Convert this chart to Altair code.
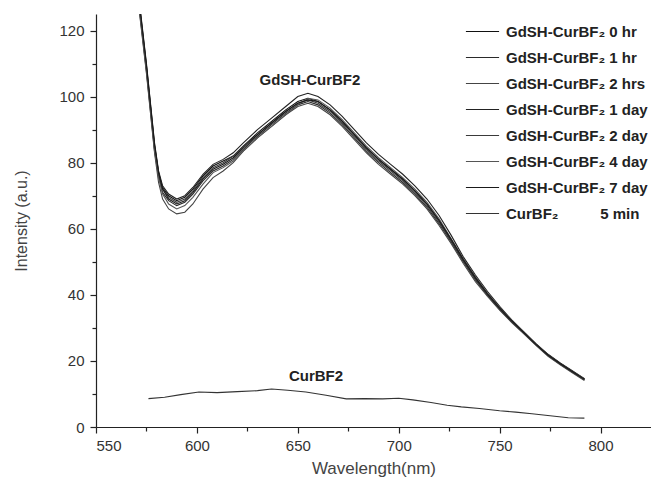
import altair as alt
import pandas as pd

wl = [568, 572, 575, 577, 579, 581, 583, 586, 590, 594, 598, 603, 608, 613, 618, 623,
      630, 637, 644, 650, 655, 660, 666, 672, 678, 684, 690, 696, 702, 708, 714, 720,
      726, 732, 738, 744, 750, 756, 762, 768, 774, 780, 786, 792]

s_0hr = [146, 125, 109, 97, 85, 77, 72.5, 70, 68.5, 69.5, 72, 76, 79, 80.5, 82, 85, 89, 92.5,
         96, 98.5, 99.5, 98.5, 96, 92.5, 88.5, 84.5, 81, 78, 75, 71.5, 67.5, 62.5, 56.5, 50.5,
         45, 40, 36, 32, 28.5, 25, 21.8, 19.2, 16.8, 14.5]
s_1hr = [145, 124, 108, 96, 84, 76, 71, 68.5, 67, 68, 70.5, 74.5, 77.5, 79, 81, 84, 88, 91.5,
         95, 97.5, 98.5, 97.5, 95, 91.5, 87.5, 83.5, 80, 77, 74, 70.5, 66.5, 61.5, 56, 50,
         44.5, 39.8, 35.6, 31.8, 28.4, 24.9, 21.6, 19, 16.6, 14.3]
s_2hrs = [144, 123, 107, 95, 83, 74, 69, 66, 64.5, 65, 67.5, 72, 75.5, 77.5, 80, 83.5, 87.5, 91,
          94.5, 97, 98, 97, 94.5, 91, 87, 83, 79.5, 76.5, 73.5, 70, 66, 61, 55.5, 49.5,
          44, 39.5, 35.4, 31.6, 28.2, 24.7, 21.4, 18.8, 16.4, 14.1]
s_1day = [147, 126, 110, 98, 86, 77.5, 73, 70.5, 69, 70, 72.5, 76.5, 79.5, 81, 83, 86, 90, 93.5,
          97, 100, 101, 100, 97.5, 94, 90, 86, 82.5, 79.5, 76.5, 73, 69, 64, 58, 51.5,
          46, 41, 36.5, 32.4, 28.8, 25.2, 22, 19.4, 17, 14.6]
s_2day = [145.5, 124.5, 108.5, 96.5, 84.5, 76.5, 72, 69.5, 68, 69, 71.5, 75.5, 78.5, 80, 82, 85,
          88.5, 92, 95.5, 98, 99, 98, 95.5, 92, 88, 84, 80.5, 77.5, 74.5, 71, 67, 62, 56.3, 50.2,
          44.8, 40, 35.8, 32, 28.6, 25, 21.7, 19.1, 16.7, 14.4]
s_4day = [144.5, 123.5, 107.5, 95.5, 83.5, 75.5, 70.5, 67.5, 66, 67, 69.5, 73.5, 77, 78.5, 80.5,
          83.5, 87.5, 91, 94.5, 97.5, 99.5, 99, 96.5, 93, 89, 85, 81.5, 78.5, 75.5, 72, 68, 63,
          57, 51, 45.5, 40.5, 36.2, 32.2, 28.7, 25.1, 21.9, 19.3, 16.9, 14.6]
s_7day = [146.5, 125.5, 109.5, 97.5, 85.5, 77, 72, 69, 67.5, 68.5, 71, 75, 78, 79.5, 81.5, 84.5,
          88.5, 92, 95.5, 98, 99, 98.5, 96, 92.5, 88.5, 84.5, 81, 78, 75, 71.5, 67.5, 62.5,
          56.8, 50.7, 45.2, 40.3, 36, 32.1, 28.6, 25, 21.8, 19.2, 16.8, 14.5]

cur_wl = [576, 584, 592, 601, 610, 620, 630, 637, 645, 654, 664, 674, 683, 692, 700, 707,
          716, 724, 731, 740, 750, 758, 766, 775, 784, 792]
cur_val = [8.6, 9.0, 9.8, 10.6, 10.4, 10.7, 11.0, 11.5, 11.1, 10.6, 9.6, 8.5, 8.6, 8.5, 8.7,
           8.2, 7.4, 6.6, 6.1, 5.6, 4.9, 4.5, 4.0, 3.4, 2.8, 2.7]

NB = "\u00a0"
labels = ["GdSH-CurBF\u2082 0 hr", "GdSH-CurBF\u2082 1 hr", "GdSH-CurBF\u2082 2 hrs",
          "GdSH-CurBF\u2082 1 day", "GdSH-CurBF\u2082 2 day", "GdSH-CurBF\u2082 4 day",
          "GdSH-CurBF\u2082 7 day", "CurBF\u2082" + NB * 9 + " 5 min"]
colors = ["#111111", "#2a2a2a", "#444444", "#222222", "#3a3a3a", "#555555", "#1a1a1a", "#333333"]

gd_series = [s_0hr, s_1hr, s_2hrs, s_1day, s_2day, s_4day, s_7day]
rows = []
for lab, ser in zip(labels[:7], gd_series):
    for x, y in zip(wl, ser):
        rows.append({"wl": x, "val": y, "series": lab})
for x, y in zip(cur_wl, cur_val):
    rows.append({"wl": x, "val": y, "series": labels[7]})
df = pd.DataFrame(rows)

ann_text = ["GdSH-CurBF2", "CurBF2"]
ann_x = [656, 659]
ann_y = [105, 15.5]
ann = pd.DataFrame({"t": ann_text, "x": ann_x, "y": ann_y})

FONT = "Liberation Sans"
xscale = alt.Scale(domain=[550, 825], nice=False, zero=False)
yscale = alt.Scale(domain=[0, 125], nice=False)

lines = alt.Chart(df).mark_line(strokeWidth=1.1, clip=True).encode(
    x=alt.X("wl:Q", scale=xscale, title="Wavelength(nm)",
            axis=alt.Axis(values=[550, 600, 650, 700, 750, 800], grid=False, tickSize=6,
                          labelFontSize=15, titleFontSize=17, labelPadding=5, titlePadding=7,
                          titleFontWeight="normal")),
    y=alt.Y("val:Q", scale=yscale, title="Intensity (a.u.)",
            axis=alt.Axis(values=[0, 20, 40, 60, 80, 100, 120], grid=False, tickSize=6,
                          labelFontSize=15, titleFontSize=16, labelPadding=6, titlePadding=29,
                          titleFontWeight="normal")),
    color=alt.Color("series:N", sort=labels,
                    scale=alt.Scale(domain=labels, range=colors),
                    legend=alt.Legend(title=None, orient="none", legendX=369, legendY=0,
                                      symbolType="stroke", symbolSize=1100, symbolStrokeWidth=1.2,
                                      labelFontSize=15, labelFontWeight="bold", labelColor="#222",
                                      rowPadding=-8, labelOffset=6, labelLimit=400)),
    detail="series:N",
)

minor = alt.Chart(ann).mark_text(fontSize=15, fontWeight="bold", font=FONT, color="#222").encode(
    x=alt.X("x:Q", scale=xscale,
            axis=alt.Axis(values=[575, 625, 675, 725, 775], orient="bottom", labels=False,
                          domain=False, grid=False, tickSize=4, title=None)),
    y=alt.Y("y:Q", scale=yscale,
            axis=alt.Axis(values=[10, 30, 50, 70, 90, 110], orient="left", labels=False,
                          domain=False, grid=False, tickSize=4, title=None)),
    text="t:N",
)

chart = alt.layer(lines, minor).resolve_axis(x="independent", y="independent").properties(
    width=555, height=413,
    autosize=alt.AutoSizeParams(type="none"),
    padding={"left": 96, "top": 14, "right": 0, "bottom": 60},
).configure(font=FONT).configure_view(stroke=None).configure_axis(
    domainColor="#222", tickColor="#222", labelColor="#333", titleColor="#444",
    labelFont=FONT, titleFont=FONT, domainWidth=1.2, tickWidth=1.2,
).configure_legend(labelFont=FONT)

chart.save("out.html", embed_options={"renderer": "svg", "actions": False})
